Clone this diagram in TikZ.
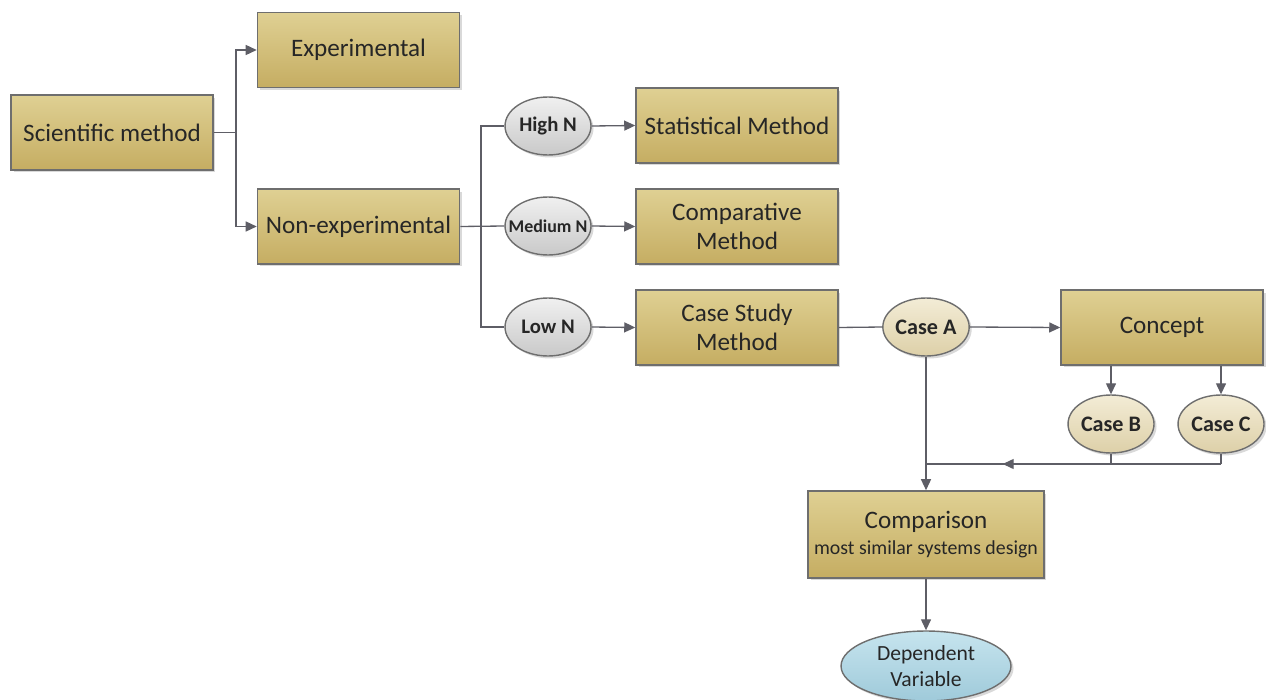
\documentclass[tikz,border=0pt]{standalone}
\usepackage{fontspec}
\setmainfont{Carlito}
\usetikzlibrary{arrows.meta,shapes.geometric,shadows,decorations.markings}

\definecolor{linegray}{HTML}{5E5E66}
\definecolor{edgegray}{HTML}{6E6E6E}
\definecolor{goldtop}{HTML}{DFD093}
\definecolor{goldbot}{HTML}{C5AD62}
\definecolor{graytop}{HTML}{F0F0F0}
\definecolor{graybot}{HTML}{C9C9C9}
\definecolor{creamtop}{HTML}{F3ECD6}
\definecolor{creambot}{HTML}{DDD0A8}
\definecolor{bluetop}{HTML}{C6E4EE}
\definecolor{bluebot}{HTML}{9FCADA}

\tikzset{
  softshadow/.style={drop shadow={shadow xshift=0.05cm,shadow yshift=-0.05cm,opacity=0.25,fill=black!60}},
  goldbox/.style={rectangle, draw=edgegray, line width=0.9pt, top color=goldtop, bottom color=goldbot,
    minimum width=4.04cm, minimum height=1.5cm, align=center, font=\fontsize{14.3}{16.5}\selectfont,
    text=black!85, softshadow},
  nell/.style={ellipse, draw=edgegray, line width=0.8pt, top color=graytop, bottom color=graybot,
    minimum width=1.72cm, minimum height=1.16cm, inner sep=0pt, font=\bfseries\fontsize{11.8}{14}\selectfont,
    text=black!85, softshadow},
  caseell/.style={nell, top color=creamtop, bottom color=creambot, font=\bfseries\fontsize{12.6}{15}\selectfont},
  dvell/.style={ellipse, draw=edgegray, line width=0.8pt, top color=bluetop, bottom color=bluebot,
    minimum width=3.4cm, minimum height=1.4cm, inner sep=0pt, align=center,
    font=\fontsize{12.3}{14.8}\selectfont, text=black!85, softshadow},
  link/.style={draw=linegray, line width=0.75pt},
  arrowlink/.style={link, -{Triangle[length=2.2mm,width=2mm]}},
  midarrow/.style={link, postaction={decorate}, decoration={markings,
    mark=at position #1 with {\arrow{Triangle[length=2.2mm,width=2mm]}}}},
}

\begin{document}
\begin{tikzpicture}[x=0.02cm,y=-0.02cm]
  \useasboundingbox (0,0) rectangle (1266,699);

  % boxes
  \node[goldbox] (sci) at (112,132.5) {Scientific method};
  \node[goldbox] (exp) at (358.5,50) {Experimental};
  \node[goldbox] (nonexp) at (358.5,226.5) {Non-experimental};
  \node[goldbox] (stat) at (737,125.5) {Statistical Method};
  \node[goldbox] (compm) at (737,226.5) {Comparative\\Method};
  \node[goldbox] (csm) at (737,327.5) {Case Study\\Method};
  \node[goldbox] (concept) at (1162,327.5) {Concept};
  \node[goldbox, minimum width=4.68cm, minimum height=1.74cm] (comp) at (926,534.5)
    {Comparison\\[-2pt]{\fontsize{11.3}{13}\selectfont most similar systems design}};

  % ellipses (the wide label is boxed at zero width so the ellipse keeps its size)
  \node[nell] (highN) at (548,126) {High N};
  \node[nell, font=\bfseries\fontsize{10.2}{12}\selectfont] (medN) at (548,226) {\makebox[0pt]{Medium N}};
  \node[nell] (lowN) at (548,327) {Low N};
  \node[caseell] (caseA) at (926,327) {Case A};
  \node[caseell] (caseB) at (1111,424) {Case B};
  \node[caseell] (caseC) at (1221,424) {Case C};
  \node[dvell] (dv) at (926,666) {Dependent\\Variable};

  % junction points
  \coordinate (j1) at (236,132.5);
  \coordinate (j2) at (481,226.5);
  \coordinate (jA) at (926,464);
  \coordinate (jB) at (1111,464);
  \coordinate (jC) at (1221,464);

  % connectors
  \draw[link] (sci.east) -- (j1);
  \draw[arrowlink] (j1) |- (exp.west);
  \draw[arrowlink] (j1) |- (nonexp.west);
  \draw[link] (nonexp.east) -- (medN.west);
  \draw[link] (j2) |- (highN.west);
  \draw[link] (j2) |- (lowN.west);
  \draw[arrowlink] (highN.east) -- (stat.west);
  \draw[arrowlink] (medN.east) -- (compm.west);
  \draw[arrowlink] (lowN.east) -- (csm.west);
  \draw[link] (csm.east) -- (caseA.west);
  \draw[arrowlink] (caseA.east) -- (concept.west);
  \draw[arrowlink] (caseB.north |- concept.south) -- (caseB.north);
  \draw[arrowlink] (caseC.north |- concept.south) -- (caseC.north);
  \draw[link] (caseB.south) -- (jB);
  \draw[link] (caseC.south) -- (jC);
  \draw[midarrow=0.74] (jC) -- (jA);
  \draw[arrowlink] (caseA.south) -- (comp.north);
  \draw[arrowlink] (comp.south) -- (dv.north);
\end{tikzpicture}
\end{document}
